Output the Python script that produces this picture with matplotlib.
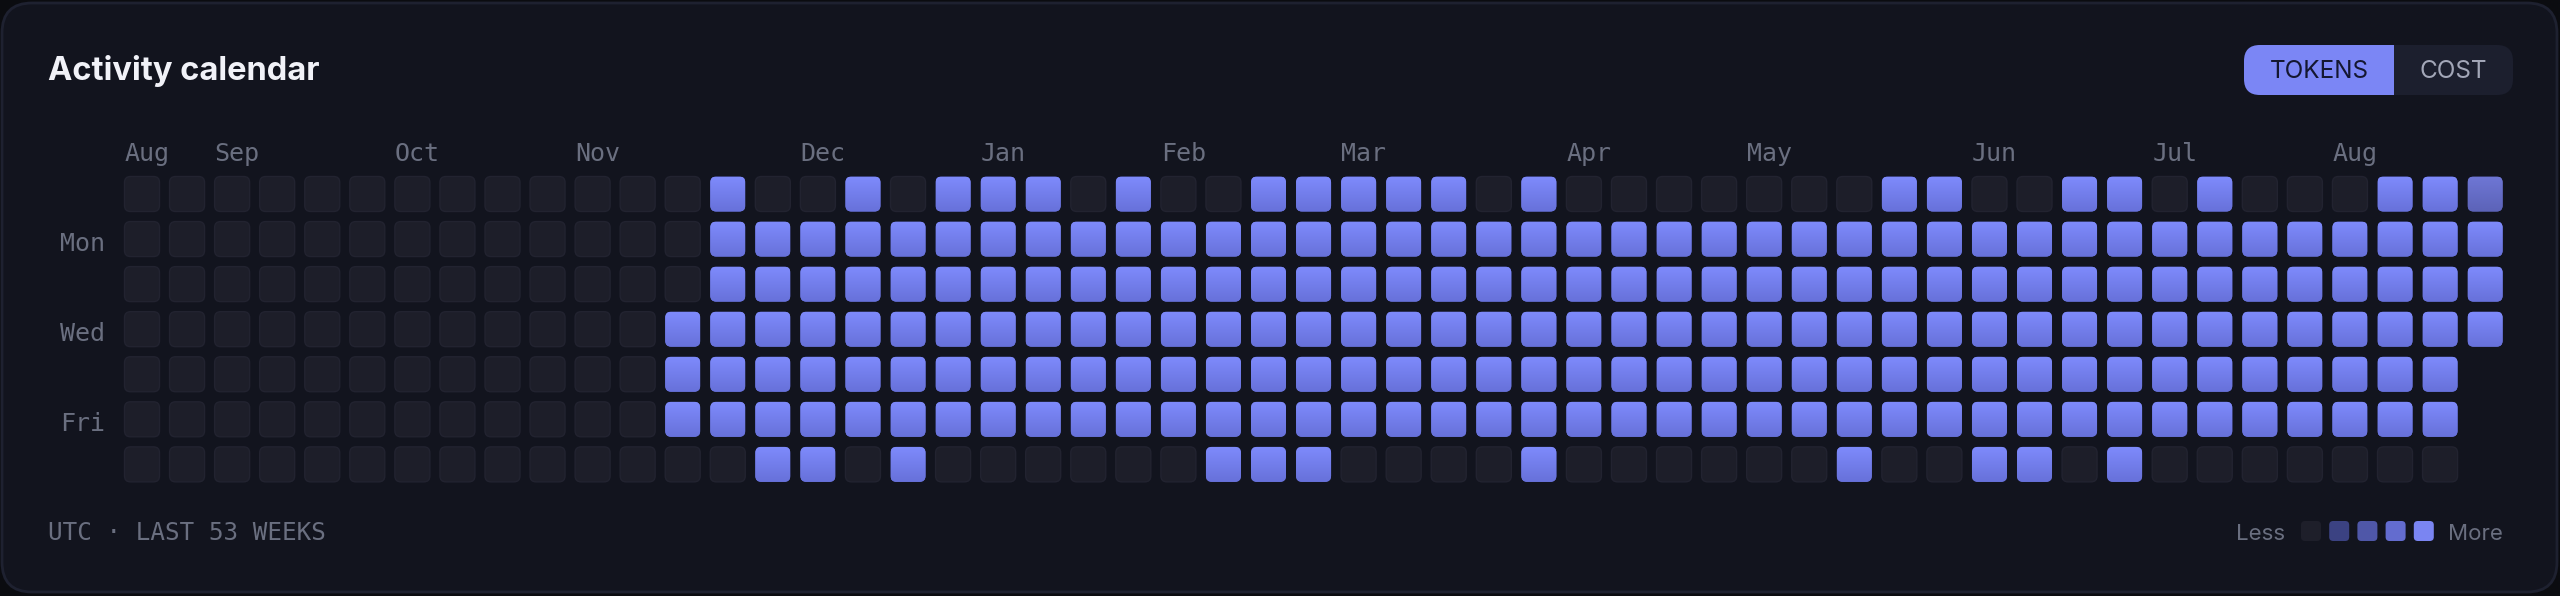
import matplotlib
matplotlib.use("Agg")
import matplotlib.pyplot as plt
import matplotlib.colors as mcolors
from matplotlib.patches import FancyBboxPatch, Rectangle
import numpy as np

# ---------------- data ----------------
W, H, DPI = 2560, 596, 100

day_labels = ["Mon", "Wed", "Fri"]
day_label_rows = [1, 3, 5]

month_names = ["Aug", "Sep", "Oct", "Nov", "Dec", "Jan", "Feb",
               "Mar", "Apr", "May", "Jun", "Jul", "Aug"]
month_weeks = [0, 2, 6, 10, 15, 19, 23, 27, 32, 36, 41, 45, 49]

# activity level per week (53 weeks); -1 = not yet (not drawn), 0 = none, 1..4 = intensity
sun = [0, 0, 0, 0, 0, 0, 0, 0, 0, 0, 0, 0, 0, 4, 0, 0, 4, 0, 4, 4, 4, 0, 4, 0, 0, 4, 4,
       4, 4, 4, 0, 4, 0, 0, 0, 0, 0, 0, 0, 4, 4, 0, 0, 4, 4, 0, 4, 0, 0, 0, 4, 4, 3]
mon = [0, 0, 0, 0, 0, 0, 0, 0, 0, 0, 0, 0, 0, 4, 4, 4, 4, 4, 4, 4, 4, 4, 4, 4, 4, 4, 4,
       4, 4, 4, 4, 4, 4, 4, 4, 4, 4, 4, 4, 4, 4, 4, 4, 4, 4, 4, 4, 4, 4, 4, 4, 4, 4]
tue = [0, 0, 0, 0, 0, 0, 0, 0, 0, 0, 0, 0, 0, 4, 4, 4, 4, 4, 4, 4, 4, 4, 4, 4, 4, 4, 4,
       4, 4, 4, 4, 4, 4, 4, 4, 4, 4, 4, 4, 4, 4, 4, 4, 4, 4, 4, 4, 4, 4, 4, 4, 4, 4]
wed = [0, 0, 0, 0, 0, 0, 0, 0, 0, 0, 0, 0, 4, 4, 4, 4, 4, 4, 4, 4, 4, 4, 4, 4, 4, 4, 4,
       4, 4, 4, 4, 4, 4, 4, 4, 4, 4, 4, 4, 4, 4, 4, 4, 4, 4, 4, 4, 4, 4, 4, 4, 4, 4]
thu = [0, 0, 0, 0, 0, 0, 0, 0, 0, 0, 0, 0, 4, 4, 4, 4, 4, 4, 4, 4, 4, 4, 4, 4, 4, 4, 4,
       4, 4, 4, 4, 4, 4, 4, 4, 4, 4, 4, 4, 4, 4, 4, 4, 4, 4, 4, 4, 4, 4, 4, 4, 4, -1]
fri = [0, 0, 0, 0, 0, 0, 0, 0, 0, 0, 0, 0, 4, 4, 4, 4, 4, 4, 4, 4, 4, 4, 4, 4, 4, 4, 4,
       4, 4, 4, 4, 4, 4, 4, 4, 4, 4, 4, 4, 4, 4, 4, 4, 4, 4, 4, 4, 4, 4, 4, 4, 4, -1]
sat = [0, 0, 0, 0, 0, 0, 0, 0, 0, 0, 0, 0, 0, 0, 4, 4, 0, 4, 0, 0, 0, 0, 0, 0, 4, 4, 4,
       0, 0, 0, 0, 4, 0, 0, 0, 0, 0, 0, 4, 0, 0, 4, 4, 0, 4, 0, 0, 0, 0, 0, 0, 0, -1]
week_rows = [sun, mon, tue, wed, thu, fri, sat]

legend_levels = [0, 1, 2, 3, 4]

title_text = "Activity calendar"
toggle_labels = ["TOKENS", "COST"]
footer_text = "UTC \u00b7 LAST 53 WEEKS"

# ---------------- style ----------------
BG_OUT = "#0B0C10"
CARD = "#12141E"
CARD_EDGE = "#1E2130"
EMPTY = "#1D1E29"
EMPTY_EDGE = "#222330"
LABEL = "#6A6F80"
level_top = {1: "#3F4690", 2: "#535CB5", 3: "#6E76D4", 4: "#7E8AFB"}
level_bot = {1: "#373D7D", 2: "#4850A0", 3: "#5C63B8", 4: "#6771DA"}
legend_colors = {0: "#1E1F2A", 1: "#3B4282", 2: "#4F57A8", 3: "#636CCF", 4: "#7A85F2"}
MONO = "DejaVu Sans Mono"
SANS = ["Inter", "DejaVu Sans"]

fig = plt.figure(figsize=(W / DPI, H / DPI), dpi=DPI, facecolor=BG_OUT)

# background axes in pixel coordinates
bg = fig.add_axes([0, 0, 1, 1])
bg.set_xlim(0, W)
bg.set_ylim(H, 0)
bg.axis("off")
bg.set_facecolor("none")

bg.add_patch(FancyBboxPatch((2, 3), W - 5, H - 7,
                            boxstyle="round,pad=0,rounding_size=30",
                            fc=CARD, ec=CARD_EDGE, lw=2, zorder=0))

bg.text(48, 80, title_text, color="#F1F2F8", fontsize=23.5, fontweight="bold",
        family=SANS, ha="left", va="baseline")

# toggle
bg.add_patch(FancyBboxPatch((2244, 45), 269, 50, boxstyle="round,pad=0,rounding_size=16",
                            fc="#1C1F2E", ec="none", zorder=1))
bg.add_patch(FancyBboxPatch((2244, 45), 150, 50, boxstyle="round,pad=0,rounding_size=16",
                            fc="#7B86F5", ec="none", zorder=2))
bg.add_patch(Rectangle((2370, 45), 24, 50, fc="#7B86F5", ec="none", zorder=2))
bg.text(2319, 78.5, toggle_labels[0], color="#141730", fontsize=17.5, family=SANS,
        ha="center", va="baseline", zorder=3)
bg.text(2453, 78.5, toggle_labels[1], color="#A3A7B8", fontsize=17.5, family=SANS,
        ha="center", va="baseline", zorder=3)

# footer
bg.text(47.5, 540, footer_text, color=LABEL, fontsize=17.5, family=MONO,
        ha="left", va="baseline")

# legend
bg.text(2236, 540, "Less", color=LABEL, fontsize=16, family=SANS, ha="left", va="baseline")
for i, lv in enumerate(legend_levels):
    cx = 2311 + i * 28.2
    bg.add_patch(FancyBboxPatch((cx - 10, 521), 20, 20,
                                boxstyle="round,pad=0,rounding_size=4",
                                fc=legend_colors[lv], ec="none", zorder=2))
bg.text(2448, 540, "More", color=LABEL, fontsize=16, family=SANS, ha="left", va="baseline")

# ---------------- calendar grid ----------------
pitch = 45.06
x0_px = 142 - 0.5 * pitch
x1_px = 142 + 52.5 * pitch
y0_px = 194 - 0.5 * pitch
y1_px = 194 + 6.5 * pitch
ax = fig.add_axes([x0_px / W, 1 - y1_px / H, (x1_px - x0_px) / W, (y1_px - y0_px) / H])
ax.set_facecolor("none")
ax.axis("off")

cs = 35 / pitch
rad = 6 / pitch


def grad(top, bot, n=40):
    t = np.array(mcolors.to_rgb(top))
    b = np.array(mcolors.to_rgb(bot))
    f = np.linspace(0, 1, n)[:, None]
    return (t * (1 - f) + b * f)[:, None, :]


grads = {lv: grad(level_top[lv], level_bot[lv]) for lv in level_top}

for r, row in enumerate(week_rows):
    for c, lv in enumerate(row):
        if lv < 0:
            continue
        if lv == 0:
            p = FancyBboxPatch((c - cs / 2, r - cs / 2), cs, cs,
                               boxstyle=f"round,pad=0,rounding_size={rad}",
                               fc=EMPTY, ec=EMPTY_EDGE, lw=1.0, zorder=2)
            ax.add_patch(p)
        else:
            p = FancyBboxPatch((c - cs / 2, r - cs / 2), cs, cs,
                               boxstyle=f"round,pad=0,rounding_size={rad}",
                               fc=level_bot[lv], ec="none", zorder=2)
            ax.add_patch(p)
            im = ax.imshow(grads[lv], extent=(c - cs / 2, c + cs / 2, r + cs / 2, r - cs / 2),
                           aspect="auto", interpolation="bilinear", zorder=3)
            im.set_clip_path(p)

for name, wk in zip(month_names, month_weeks):
    ax.text(wk - cs / 2, (161 - 194) / pitch, name, color=LABEL, fontsize=18,
            family=MONO, ha="left", va="baseline", clip_on=False)

for name, r in zip(day_labels, day_label_rows):
    ax.text((105 - 142) / pitch, r + 11.5 / pitch, name, color=LABEL, fontsize=18,
            family=MONO, ha="right", va="baseline", clip_on=False)

ax.set_xlim(-0.5, 52.5)
ax.set_ylim(6.5, -0.5)

fig.savefig("out.png", dpi=DPI, facecolor=BG_OUT)
